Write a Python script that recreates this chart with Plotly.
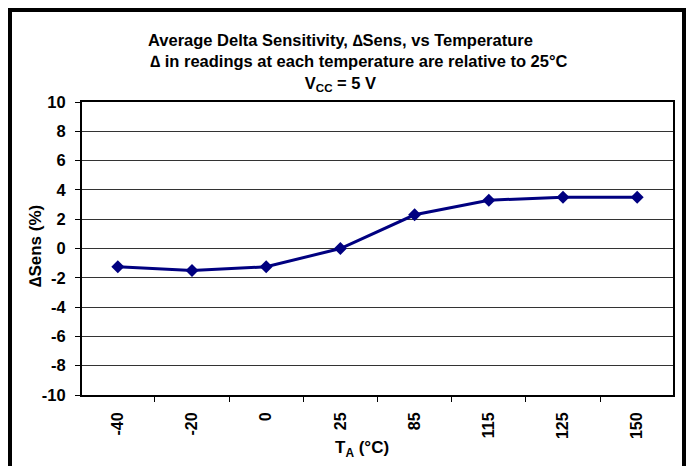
import plotly.graph_objects as go

categories = ["-40", "-20", "0", "25", "85", "115", "125", "150"]
delta_sens = [-1.25, -1.5, -1.25, 0.0, 2.3, 3.3, 3.5, 3.5]
y_ticks = [-10, -8, -6, -4, -2, 0, 2, 4, 6, 8, 10]
y_tick_labels = ["-10", "-8", "-6", "-4", "-2", "0", "2", "4", "6", "8", "10"]

title_lines = [
    "Average Delta Sensitivity, ∆Sens, vs Temperature",
    "∆ in readings at each temperature are relative to 25°C",
    "V<sub>CC</sub> = 5 V",
]

W, H = 697, 466
FONT = "Liberation Sans, Arial, sans-serif"

def px(x):
    return x / W

def py(y):
    return 1 - y / H

pad = "&nbsp;" * 8
title_text = "<br>".join([title_lines[0] + pad, title_lines[1], title_lines[2] + pad])

fig = go.Figure()
fig.add_trace(go.Scatter(
    x=categories, y=delta_sens, mode="lines+markers",
    line=dict(color="#000080", width=3),
    marker=dict(symbol="diamond", size=10, color="#000080"),
    showlegend=False,
))

fig.update_layout(
    width=W, height=H,
    margin=dict(l=0, r=0, t=0, b=0),
    paper_bgcolor="white", plot_bgcolor="white",
    font=dict(family=FONT, color="black", size=16, weight="bold"),
    xaxis=dict(
        domain=[px(82), px(673)],
        type="category",
        tickson="boundaries",
        ticks="outside", ticklen=5, tickcolor="black", tickwidth=1,
        tickangle=-90,
        ticklabelstandoff=9,
        tickfont=dict(family=FONT, size=16, weight="bold"),
        showline=True, linecolor="black", linewidth=2, mirror=True,
        showgrid=False, zeroline=False,
        automargin=False,
    ),
    yaxis=dict(
        domain=[py(395), py(102)],
        range=[-10, 10],
        tickvals=y_ticks,
        ticktext=y_tick_labels,
        ticks="outside", ticklen=5, tickcolor="black", tickwidth=1,
        ticklabelstandoff=6,
        tickfont=dict(family=FONT, size=16.5, weight="bold"),
        showline=True, linecolor="black", linewidth=2, mirror=True,
        showgrid=True, gridcolor="#333333", gridwidth=1,
        zeroline=False,
        automargin=False,
    ),
    shapes=[dict(
        type="rect", xref="paper", yref="paper",
        x0=px(10), x1=px(684), y0=py(10), y1=py(480),
        line=dict(color="black", width=4), fillcolor="rgba(0,0,0,0)",
    )],
    annotations=[
        dict(text=title_text,
             x=px(359), y=py(63), xref="paper", yref="paper",
             showarrow=False, xanchor="center", yanchor="middle", align="center",
             font=dict(family=FONT, size=16.5, weight="bold")),
        dict(text="∆Sens (%)",
             x=px(35), y=py(246), xref="paper", yref="paper",
             showarrow=False, xanchor="center", yanchor="middle", textangle=-90,
             font=dict(family=FONT, size=17, weight="bold")),
        dict(text="T<sub>A</sub> (°C)",
             x=px(362), y=py(449), xref="paper", yref="paper",
             showarrow=False, xanchor="center", yanchor="middle",
             font=dict(family=FONT, size=17, weight="bold")),
    ],
)

fig.write_html(
    "out.html",
    config={"displayModeBar": False},
    post_script="document.body.style.margin='0';document.body.style.overflow='hidden';",
)
